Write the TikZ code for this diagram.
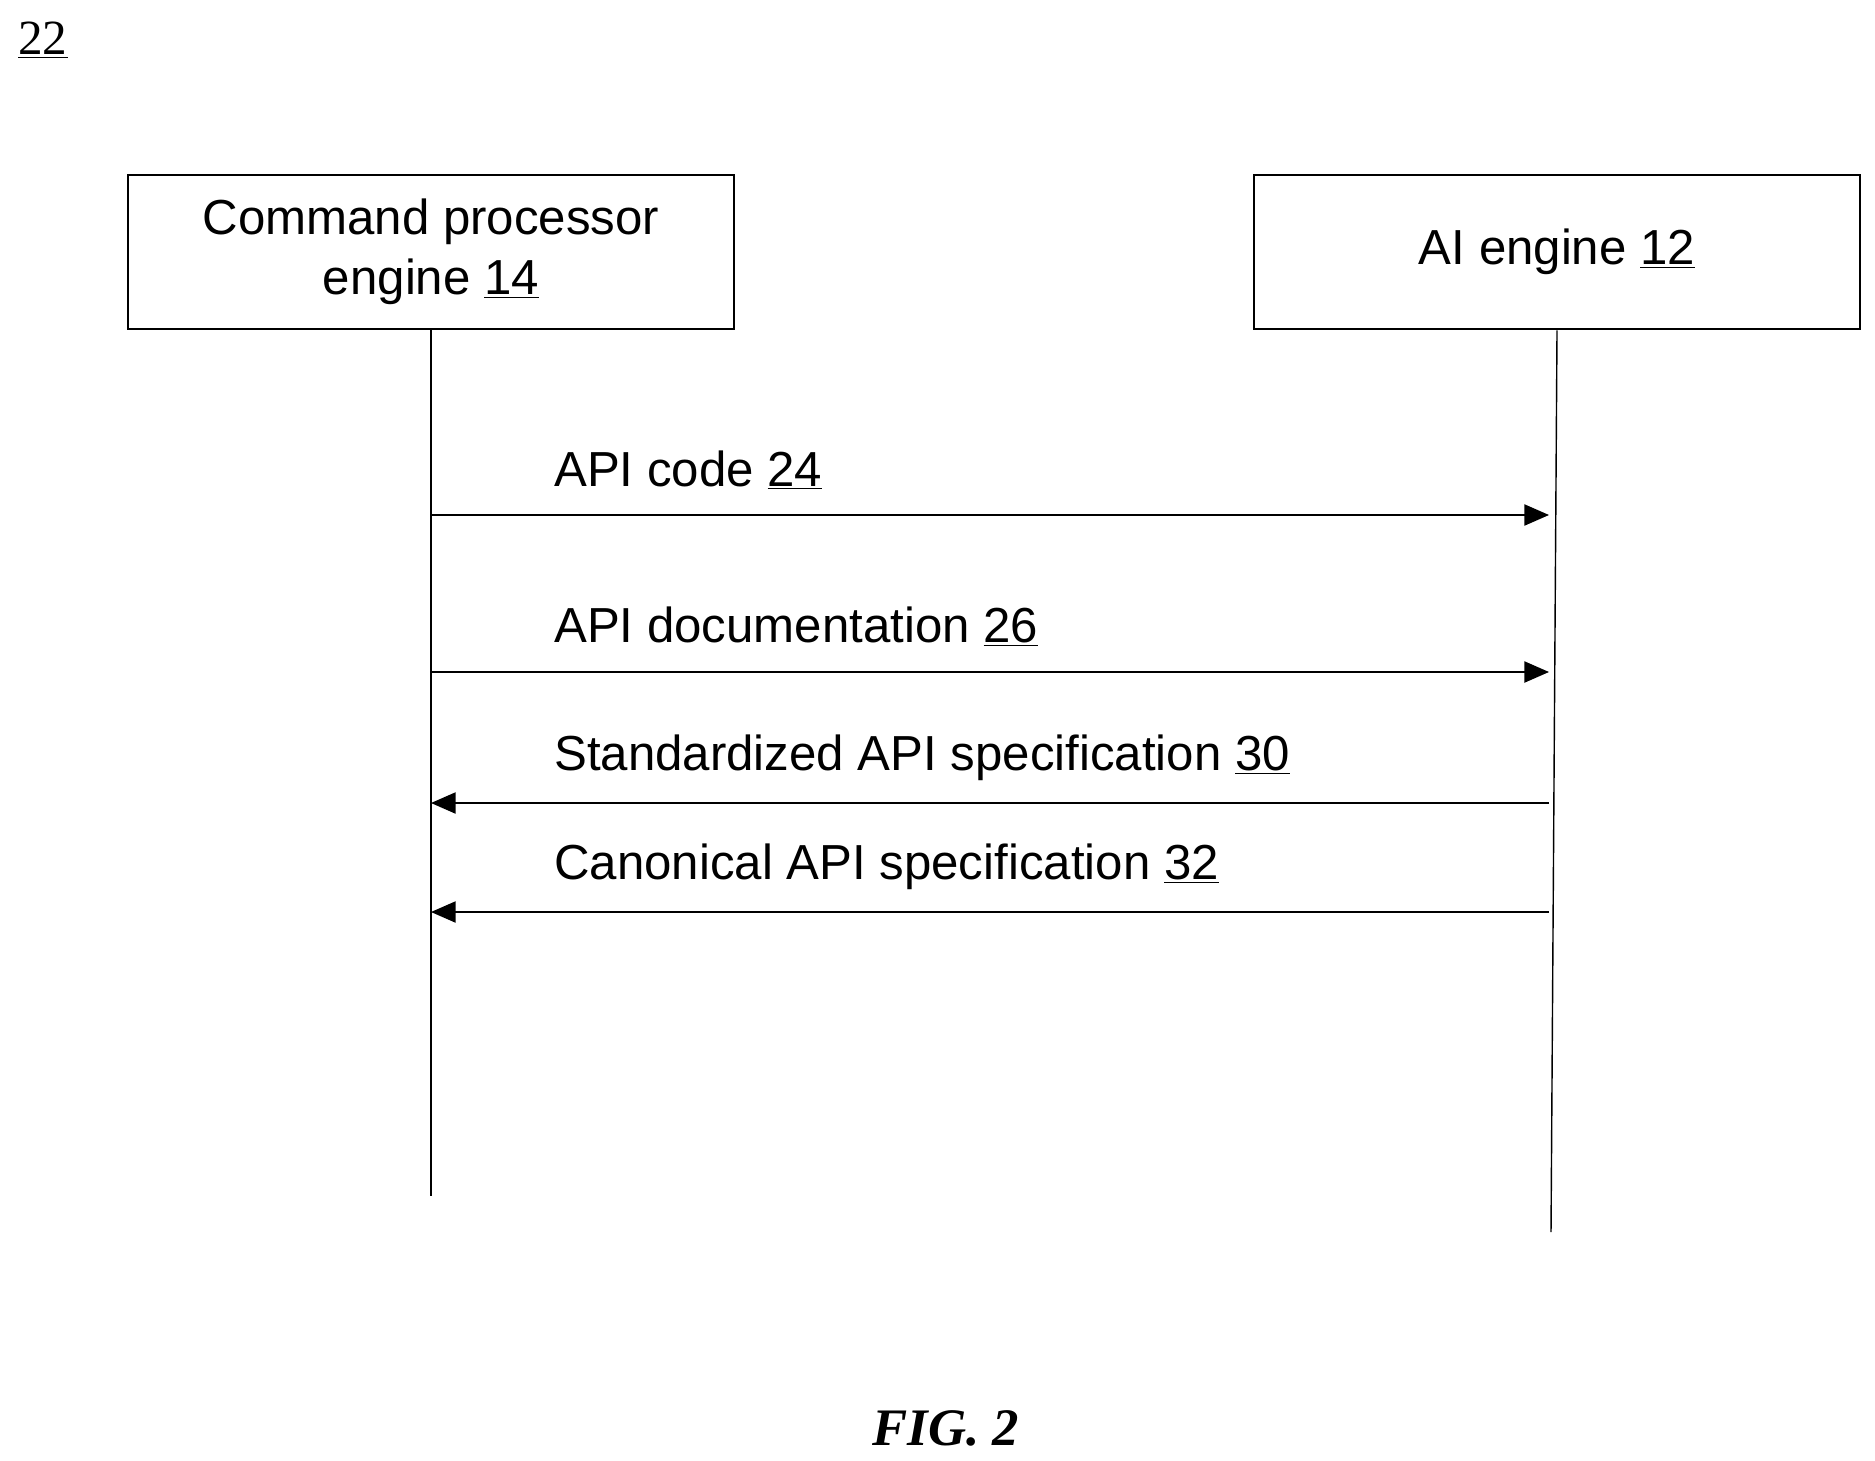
\documentclass[tikz,border=0pt]{standalone}
\usepackage{fontspec}
\setmainfont{Liberation Sans}
\newfontfamily\figfont{Liberation Serif}
\tikzstyle{party}=[draw,line width=1.6pt,minimum width=606\px,minimum height=154\px,align=center,font=\fontsize{28}{34}\selectfont]
\tikzstyle{msg}=[anchor=west,font=\fontsize{28}{34}\selectfont,inner sep=0pt]
\tikzstyle{call}=[line width=1pt,-{Triangle[length=14pt,width=12pt]}]
\newlength{\px}
\setlength{\px}{0.02cm}
\usetikzlibrary{arrows.meta}
\begin{document}
\begin{tikzpicture}[x=0.02cm,y=-0.02cm]
  \useasboundingbox (0,0) rectangle (1875,1460);
  \node[anchor=west,font=\figfont\fontsize{28}{34}\selectfont,inner sep=0pt] (fignum) at (18,40) {\underline{22}};
  \node[party] (cpe) at (431,252) {Command processor\\engine \underline{14}};
  \node[party] (ai) at (1557,252) {AI engine \underline{12}};
  \coordinate (cpeend) at (431,1196);
  \coordinate (aiend) at (1551,1232);
  \draw[line width=0.8pt] (cpe.south) -- (cpeend);
  \draw[line width=0.8pt] (ai.south) -- (aiend);
  % messages
  \foreach \y/\t/\dir in {515/API code \underline{24}/1,
                          672/API documentation \underline{26}/1,
                          803/Standardized API specification \underline{30}/0,
                          912/Canonical API specification \underline{32}/0} {
    \coordinate (l\y) at (431,\y);
    \coordinate (r\y) at (1549,\y);
    \node[msg] (m\y) at (554,\y-45) {\t};
    \ifnum\dir=1
      \draw[call] (l\y) -- (r\y);
    \else
      \draw[call] (r\y) -- (l\y);
    \fi
  }
  \node[font=\figfont\bfseries\itshape\fontsize{30}{36}\selectfont] (caption) at (946,1428) {FIG. 2};
\end{tikzpicture}
\end{document}
